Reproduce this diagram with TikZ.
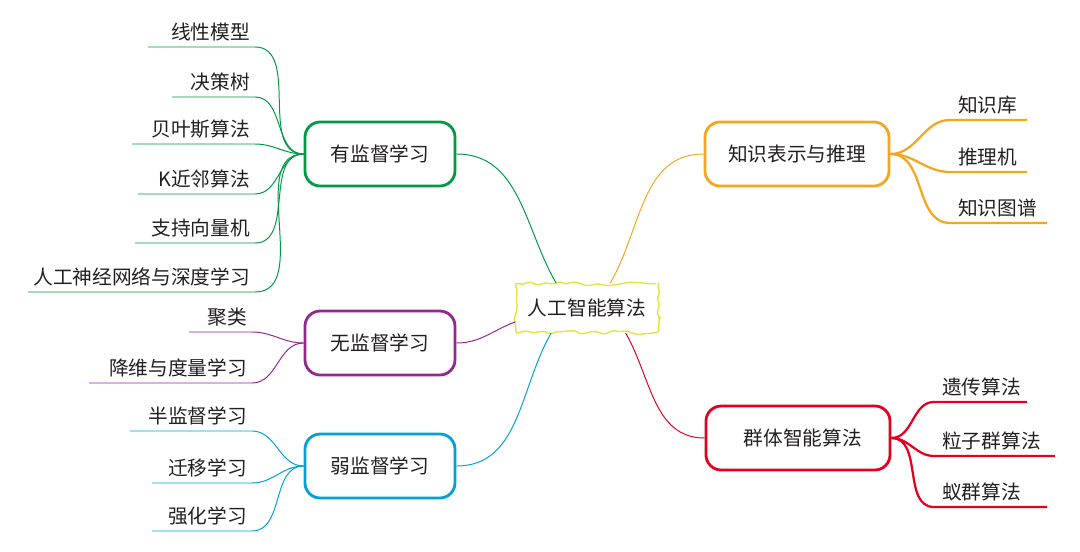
\documentclass[tikz,border=0pt]{standalone}
\usepackage{fontspec}
\newfontfamily\cjk{Noto Sans CJK SC}
\usetikzlibrary{decorations.pathmorphing}
\definecolor{mGreen}{RGB}{0,153,68}
\definecolor{mPurple}{RGB}{146,39,143}
\definecolor{mCyan}{RGB}{0,160,218}
\definecolor{mOrange}{RGB}{243,166,30}
\definecolor{mRed}{RGB}{228,0,30}
\definecolor{mYellow}{RGB}{228,228,60}
\definecolor{mText}{RGB}{35,31,32}

\begin{document}
\begin{tikzpicture}[x=0.025cm, y=-0.025cm,
  every node/.style={font=\cjk\fontsize{14}{16}\selectfont, text=mText},
  branch/.style={draw=#1, line width=2pt, rounded corners=0.38cm, minimum height=1.6cm, minimum width=3.75cm, fill=white},
  leafL/.style={anchor=south east, inner xsep=0.12cm, inner ysep=0.13cm},
  leafR/.style={anchor=south west, inner xsep=0.2cm, inner ysep=0.13cm},
  thin/.style={draw=#1, line width=0.7pt},
  thick/.style={draw=#1, line width=1.6pt}]
  \useasboundingbox (0,0) rectangle (1080,552);
  \pgfmathsetseed{11}
  \node[draw=mYellow, line width=1pt, minimum width=3.55cm, minimum height=1.22cm,
    decorate, decoration={random steps, segment length=4.5pt, amplitude=1.8pt},
    rounded corners=1.4pt] (root) at (587,308) {人工智能算法};
  \node[branch=mGreen] (sup) at (380,154) {有监督学习};
  \node[branch=mPurple] (uns) at (380,343) {无监督学习};
  \node[branch=mCyan] (weak) at (380,466) {弱监督学习};
  \node[branch=mOrange, minimum width=4.6cm] (know) at (797,154) {知识表示与推理};
  \node[branch=mRed, minimum width=4.6cm] (swarm) at (798,438) {\hspace{0.5em}群体智能算法};
  \draw[thin=mGreen] (sup.east) to[out=0,in=120] (root.141);
  \draw[thin=mPurple] (uns.east) to[out=0,in=200] (root.191);
  \draw[thin=mCyan] (weak.east) to[out=0,in=240] (root.215);
  \draw[thin=mOrange] (know.west) to[out=180,in=60] (root.47);
  \draw[thin=mRed] (swarm.west) to[out=180,in=300] (root.327);
  \foreach \i/\y/\s/\txt in {1/47/148/线性模型, 2/97/172/决策树, 3/144/132/贝叶斯算法,
    4/194/138/K近邻算法, 5/243/135/支持向量机, 6/292/28/人工神经网络与深度学习} {
    \node[leafL] (sup\i) at (255,\y) {\txt};
    \coordinate (sup\i s) at (\s,\y);
    \draw[thin=mGreen] (sup\i s) -- (sup\i.south east) to[out=0,in=180] (sup.west);
  }
  \foreach \i/\y/\s/\txt in {1/332/189/聚类, 2/383/89/降维与度量学习} {
    \node[leafL] (uns\i) at (252,\y) {\txt};
    \coordinate (uns\i s) at (\s,\y);
    \draw[thin=mPurple] (uns\i s) -- (uns\i.south east) to[out=0,in=180] (uns.west);
  }
  \foreach \i/\y/\s/\txt in {1/431/130/半监督学习, 2/483/152/迁移学习, 3/531/152/强化学习} {
    \node[leafL] (weak\i) at (252,\y) {\txt};
    \coordinate (weak\i s) at (\s,\y);
    \draw[thin=mCyan] (weak\i s) -- (weak\i.south east) to[out=0,in=180] (weak.west);
  }
  \foreach \i/\y/\e/\txt in {1/120/1027/知识库, 2/172/1027/推理机, 3/223/1047/知识图谱} {
    \node[leafR] (know\i) at (950,\y) {\txt};
    \coordinate (know\i e) at (\e,\y);
    \draw[thick=mOrange] (know.east) to[out=0,in=180] (know\i.south west) -- (know\i e);
  }
  \foreach \i/\y/\e/\txt in {1/402/1027/遗传算法, 2/456/1055/粒子群算法, 3/507/1047/蚁群算法} {
    \node[leafR] (swarm\i) at (934,\y) {\txt};
    \coordinate (swarm\i e) at (\e,\y);
    \draw[thick=mRed] (swarm.east) to[out=0,in=180] (swarm\i.south west) -- (swarm\i e);
  }
\end{tikzpicture}
\end{document}
